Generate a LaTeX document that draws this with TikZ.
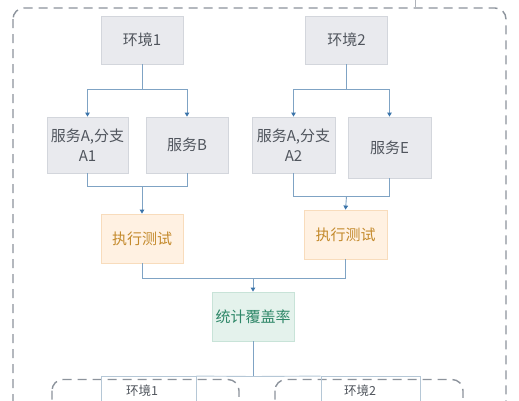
\documentclass[tikz,border=0pt]{standalone}
\usepackage{fontspec}
\setmainfont{Noto Sans CJK SC}
\usetikzlibrary{arrows.meta}
\definecolor{gfill}{HTML}{E9EAEE}
\definecolor{gdraw}{HTML}{D3D6DC}
\definecolor{txt}{HTML}{50555D}
\definecolor{conn}{HTML}{7FA3C4}
\definecolor{tip}{HTML}{3A74AA}
\definecolor{ofill}{HTML}{FFF1E2}
\definecolor{odraw}{HTML}{F8DCBC}
\definecolor{otxt}{HTML}{C48A2C}
\definecolor{nfill}{HTML}{E4F2EC}
\definecolor{ndraw}{HTML}{C8E3D8}
\definecolor{ntxt}{HTML}{2E8768}
\definecolor{dash}{HTML}{8C939C}
\definecolor{lconn}{HTML}{B5C7D6}
\tikzset{
  graybox/.style={draw=gdraw, fill=gfill, text=txt, line width=0.8pt, inner sep=0pt, align=center, font=\fontsize{15}{20.5}\selectfont},
  orangebox/.style={draw=odraw, fill=ofill, text=otxt, line width=0.8pt, inner sep=0pt, font=\fontsize{15}{18}\selectfont},
  greenbox/.style={draw=ndraw, fill=nfill, text=ntxt, line width=0.8pt, inner sep=0pt, font=\fontsize{15}{18}\selectfont},
  link/.style={draw=conn, line width=0.9pt},
  arrowlink/.style={link, -{Triangle[length=4pt,width=4.5pt,color=tip]}},
  dashbox/.style={draw=dash, line width=1.4pt, dash pattern=on 9pt off 6pt, rounded corners=11pt},
  lowlink/.style={draw=lconn, line width=0.9pt},
  lowlabel/.style={text=txt, inner sep=0pt, font=\fontsize{12.5}{15}\selectfont},
}
\begin{document}
\begin{tikzpicture}[x=1pt,y=-1pt]
\useasboundingbox (0,0) rectangle (519,400);
\clip (0,0) rectangle (519,400);
\fill[white] (0,0) rectangle (519,400);
% outer dashed frame
\draw[dashbox] (13,8) rectangle (506,430);
\coordinate (topin) at (415,-2);
\coordinate (topend) at (415,7);
\draw[link, draw=dash!70] (topin) -- (topend);
% nodes
\node[graybox, minimum width=82pt, minimum height=48pt] (env1) at (142,40) {环境1};
\node[graybox, minimum width=82pt, minimum height=48pt] (env2) at (346.5,40) {环境2};
\node[graybox, minimum width=81pt, minimum height=56pt] (sa1) at (87.5,145) {服务A,分支\\A1};
\node[graybox, minimum width=82pt, minimum height=56pt] (sb) at (187,145) {服务B};
\node[graybox, minimum width=83pt, minimum height=56pt] (sa2) at (293.5,145) {服务A,分支\\A2};
\node[graybox, minimum width=83pt, minimum height=61pt] (se) at (389.5,147.5) {服务E};
\node[orangebox, minimum width=82pt, minimum height=49pt] (run1) at (142,238.5) {执行测试};
\node[orangebox, minimum width=83pt, minimum height=49pt] (run2) at (345.5,234.5) {执行测试};
\node[greenbox, minimum width=82pt, minimum height=49pt] (cov) at (253,316.5) {统计覆盖率};
% connectors env1
\coordinate (e1j) at (142,89);
\draw[link] (env1.south) -- (e1j);
\draw[arrowlink] (e1j) -| (sa1.north);
\draw[arrowlink] (e1j) -| (sb.north);
\coordinate (m1) at (142,186);
\draw[link] (sa1.south) |- (m1);
\draw[link] (sb.south) |- (m1);
\draw[arrowlink] (m1) -- (run1.north);
% connectors env2
\coordinate (e2j) at (346.5,89);
\draw[link] (env2.south) -- (e2j);
\draw[arrowlink] (e2j) -| (sa2.north);
\draw[arrowlink] (e2j) -| (se.north);
\coordinate (m2) at (346.5,196.5);
\draw[link] (sa2.south) |- (m2);
\draw[link] (se.south) |- (m2);
\draw[arrowlink] (m2) -- (run2.north);
% to coverage
\coordinate (m3) at (253,278);
\draw[link] (run1.south) |- (m3);
\draw[link] (run2.south) |- (m3);
\draw[arrowlink] (m3) -- (cov.north);
% lower part
\coordinate (m4) at (253,376.5);
\draw[link] (cov.south) -- (m4);
\draw[dashbox] (52,379.5) rectangle (239,440);
\draw[dashbox] (275,379.5) rectangle (463,440);
\node[draw=lconn, line width=0.9pt, minimum width=95pt, minimum height=60pt, inner sep=0pt] (low1) at (148.5,406.5) {};
\node[draw=lconn, line width=0.9pt, minimum width=99pt, minimum height=60pt, inner sep=0pt] (low2) at (370.5,406.5) {};
\draw[lowlink] (m4) -- (low1.north east);
\draw[lowlink] (m4) -- (low2.north west);
\node[lowlabel] (lab1) at (142,391) {环境1};
\node[lowlabel] (lab2) at (360,391) {环境2};
\end{tikzpicture}
\end{document}
